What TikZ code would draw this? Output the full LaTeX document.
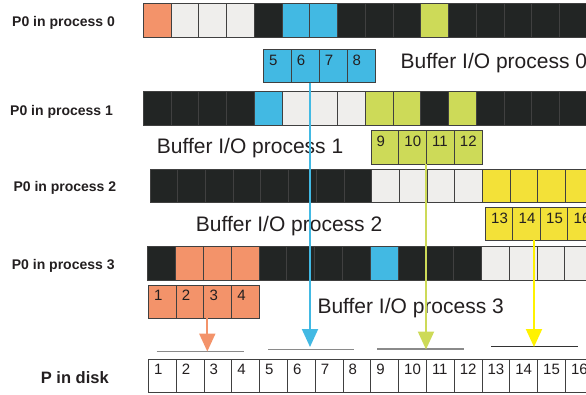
\documentclass[tikz,border=0pt]{standalone}
\usepackage{fontspec}
\setmainfont{Liberation Sans}
\usetikzlibrary{arrows.meta}
\definecolor{cO}{HTML}{F3936A}
\definecolor{cL}{HTML}{EFEEEC}
\definecolor{cD}{HTML}{222524}
\definecolor{cB}{HTML}{42B9E3}
\definecolor{cG}{HTML}{CDDA58}
\definecolor{cY}{HTML}{F3E138}
\definecolor{cYA}{HTML}{FFF200}
\definecolor{cW}{HTML}{FFFFFF}
\definecolor{txt}{HTML}{231F20}
\definecolor{gln}{HTML}{8A8A8A}
\newcommand\cellrow[6]{% name, x0, w, ytop, h, colours
  \foreach \c [count=\i] in {#6} {
    \node[cellbox, fill=\c, minimum width=#3pt, minimum height=#5pt] (#1c\i) at ({#2+(\i-0.5)*#3}, {#4+#5/2}) {};
  }}
\begin{document}
\begin{tikzpicture}[x=1pt,y=-1pt,
  cellbox/.style={draw=black!75, line width=0.7pt, inner sep=0pt, outer sep=0pt},
  lab/.style={font=\fontsize{14}{16}\selectfont\bfseries, inner sep=0pt, text=txt, anchor=base west},
  buftext/.style={font=\fontsize{21}{24}\selectfont, inner sep=0pt, text=txt, anchor=base west},
  num/.style={font=\fontsize{15}{17}\selectfont, inner sep=0pt, text=txt, anchor=base west},
  gline/.style={draw=gln, line width=1.3pt},
  arr/.style={line width=2pt, -{Triangle[width=16pt,length=18pt]}}]
\useasboundingbox (0,0) rectangle (586,394);
\clip (0,0) rectangle (586,394);
% process rows
\cellrow{r0}{143.3}{27.75}{3.3}{34}{cO,cL,cL,cL,cD,cB,cB,cD,cD,cD,cG,cD,cD,cD,cD,cD}
\cellrow{r1}{143.3}{27.75}{91.7}{33.3}{cD,cD,cD,cD,cB,cL,cL,cL,cG,cG,cD,cG,cD,cD,cD,cD}
\cellrow{r2}{150}{27.7}{169.3}{33.4}{cD,cD,cD,cD,cD,cD,cD,cD,cL,cL,cL,cL,cY,cY,cY,cY}
\cellrow{r3}{147.7}{27.8}{246.7}{33.3}{cD,cO,cO,cO,cD,cD,cD,cD,cB,cD,cD,cD,cL,cL,cL,cL}
% buffers
\cellrow{b0}{263.3}{27.9}{49.3}{33.4}{cB,cB,cB,cB}
\cellrow{b1}{371}{27.75}{130.7}{33.3}{cG,cG,cG,cG}
\cellrow{b2}{485}{27.5}{207.3}{32.7}{cY,cY,cY,cY}
\cellrow{b3}{148.3}{27.75}{285}{33.3}{cO,cO,cO,cO}
% disk
\cellrow{d}{148.3}{27.8}{359}{33.7}{cW,cW,cW,cW,cW,cW,cW,cW,cW,cW,cW,cW,cW,cW,cW,cW}
% numbers
\foreach \n [count=\i] in {5,6,7,8} \node[num] (b0n\i) at ([shift={(5.5,15.7)}]b0c\i.north west) {\n};
\foreach \n [count=\i] in {9,10,11,12} \node[num] (b1n\i) at ([shift={(5.5,15.7)}]b1c\i.north west) {\n};
\foreach \n [count=\i] in {13,14,15,16} \node[num] (b2n\i) at ([shift={(6,15.7)}]b2c\i.north west) {\n};
\foreach \n [count=\i] in {1,2,3,4} \node[num] (b3n\i) at ([shift={(5.5,15.7)}]b3c\i.north west) {\n};
\foreach \n in {1,...,16} \node[num] (dn\n) at ([shift={(5.5,15)}]dc\n.north west) {\n};
% labels
\node[lab] (l0) at (12,26.7) {P0 in process 0};
\node[lab] (l1) at (10,115.5) {P0 in process 1};
\node[lab] (l2) at (13.3,191.2) {P0 in process 2};
\node[lab] (l3) at (11.7,269.5) {P0 in process 3};
\node[lab, font=\fontsize{16.5}{18}\selectfont\bfseries] (ld) at (40.7,383.3) {P in disk};
\node[buftext] (t0) at (400.5,68.3) {Buffer I/O process 0};
\node[buftext] (t1) at (156.7,153) {Buffer I/O process 1};
\node[buftext] (t2) at (195.7,231.7) {Buffer I/O process 2};
\node[buftext] (t3) at (317.3,313.3) {Buffer I/O process 3};
% lines above disk
\draw[gline] (156.7,351.7) -- (244.3,351.7);
\draw[gline] (268.3,349.3) -- (354,349.3);
\draw[gline] (377.3,349) -- (464.3,349);
\draw[gline, draw=black!80] (491,346.7) -- (577.7,346.7);
% arrows
\coordinate (tO) at (207.3,351.5);
\coordinate (tB) at (310,347);
\coordinate (tG) at (426,349.5);
\coordinate (tY) at (534,347);
\draw[arr, draw=cO, fill=cO] (tO |- b3c3.south) -- (tO);
\draw[arr, draw=cB, fill=cB] (tB |- b0c2.south) -- (tB);
\draw[arr, draw=cG, fill=cG] (tG |- b1c3.south) -- (tG);
\draw[arr, draw=cYA, fill=cYA] (tY |- b2c2.south) -- (tY);
\end{tikzpicture}
\end{document}
